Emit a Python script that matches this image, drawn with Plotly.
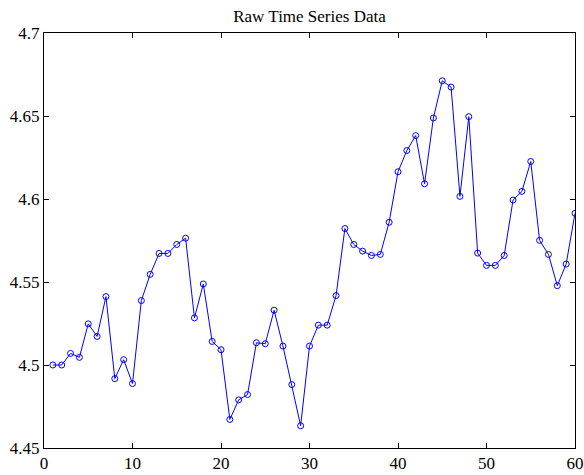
import plotly.graph_objects as go

x_vals = list(range(1, 61))
y_vals = [
    4.5000, 4.5000, 4.5070, 4.5046, 4.5248, 4.5172, 4.5412, 4.4918, 4.5032, 4.4888,
    4.5388, 4.5546, 4.5672, 4.5672, 4.5726, 4.5764, 4.5284, 4.5488, 4.5142, 4.5092,
    4.4672, 4.4790, 4.4822, 4.5134, 4.5128, 4.5330, 4.5114, 4.4882, 4.4634, 4.5114,
    4.5240, 4.5240, 4.5418, 4.5822, 4.5726, 4.5686, 4.5660, 4.5666, 4.5860, 4.6164,
    4.6292, 4.6382, 4.6092, 4.6488, 4.6712, 4.6674, 4.6016, 4.6496, 4.5674, 4.5600,
    4.5600, 4.5660, 4.5994, 4.6046, 4.6226, 4.5751, 4.5666, 4.5478, 4.5608, 4.5914,
]
x_ticks = [0, 10, 20, 30, 40, 50, 60]
y_ticks = [4.45, 4.5, 4.55, 4.6, 4.65, 4.7]
y_tick_text = ["4.45", "4.5", "4.55", "4.6", "4.65", "4.7"]
title_text = "Raw Time Series Data"

fig = go.Figure()
fig.add_trace(go.Scatter(
    x=x_vals, y=y_vals, mode="lines+markers",
    line=dict(color="#0000ff", width=1),
    marker=dict(symbol="circle-open", size=6, color="#0000ff", line=dict(width=1)),
    showlegend=False,
))

axis_common = dict(
    showline=True, linecolor="black", linewidth=1, mirror="ticks",
    ticks="inside", ticklen=5, tickcolor="black", tickwidth=1,
    showgrid=False, zeroline=False, automargin=False,
    tickfont=dict(family="Liberation Serif", size=17, color="black"),
)

fig.update_layout(
    width=584, height=475,
    margin=dict(l=44, r=9, t=33, b=27, autoexpand=False),
    paper_bgcolor="white", plot_bgcolor="white",
    title=dict(text=title_text, x=(44 + 575) / 2 / 584, xanchor="center",
               y=1 - 16 / 475, yanchor="middle",
               font=dict(family="Liberation Serif", size=17, color="black")),
    xaxis=dict(range=[0, 60], tickvals=x_ticks, **axis_common),
    yaxis=dict(range=[4.45, 4.7], tickvals=y_ticks, ticktext=y_tick_text, **axis_common),
)

fig.write_html("out.html")
